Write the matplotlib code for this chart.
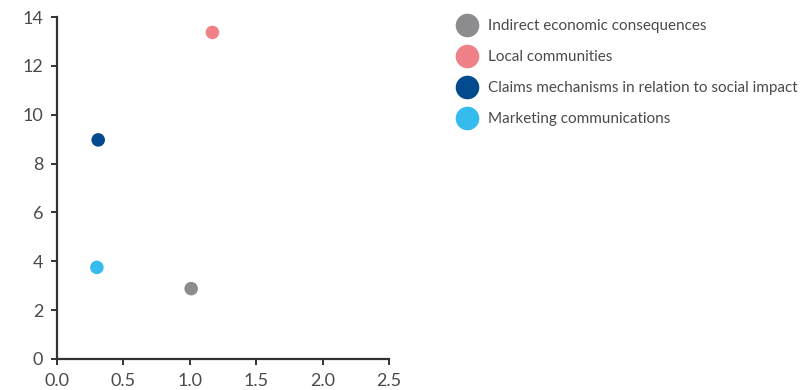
import matplotlib
matplotlib.use("Agg")
import matplotlib.pyplot as plt
from matplotlib.lines import Line2D

categories = ["Indirect economic consequences", "Local communities",
              "Claims mechanisms in relation to social impact", "Marketing communications"]
x_vals = [1.01, 1.17, 0.31, 0.30]
y_vals = [2.88, 13.37, 8.97, 3.75]
colors = ["#8c8c8f", "#ef8189", "#004a8d", "#36bbee"]
x_ticks = [0.0, 0.5, 1.0, 1.5, 2.0, 2.5]
y_ticks = [0, 2, 4, 6, 8, 10, 12, 14]

plt.rcParams['font.family'] = ['Lato', 'DejaVu Sans']
fig = plt.figure(figsize=(8.1, 3.9), dpi=100)
ax = fig.add_axes([0.0704, 0.0795, 0.4099, 0.8769])

for xv, yv, c in zip(x_vals, y_vals, colors):
    ax.scatter([xv], [yv], s=95, color=c, edgecolors='none', zorder=3)

ax.set_xlim(0, 2.5)
ax.set_ylim(0, 14)
ax.set_xticks(x_ticks)
ax.set_xticklabels([f"{t:.1f}" for t in x_ticks])
ax.set_yticks(y_ticks)
for s in ['top', 'right']:
    ax.spines[s].set_visible(False)
for s in ['left', 'bottom']:
    ax.spines[s].set_color('#333333')
    ax.spines[s].set_linewidth(1.6)
ax.tick_params(colors='#333333', labelcolor='#4a4a4a', labelsize=13, width=1.4, length=4,
               direction='out', pad=6)

handles = [Line2D([], [], marker='o', linestyle='none', markersize=17, markerfacecolor=c,
                  markeredgecolor='none') for c in colors]
leg = fig.legend(handles, categories, loc='upper left', bbox_to_anchor=(0.558, 0.967), frameon=False,
                 fontsize=11, labelcolor='#4a4a4a', handletextpad=0.75, labelspacing=1.12,
                 handlelength=1.2, borderaxespad=0)

fig.savefig("out.png", dpi=100)
